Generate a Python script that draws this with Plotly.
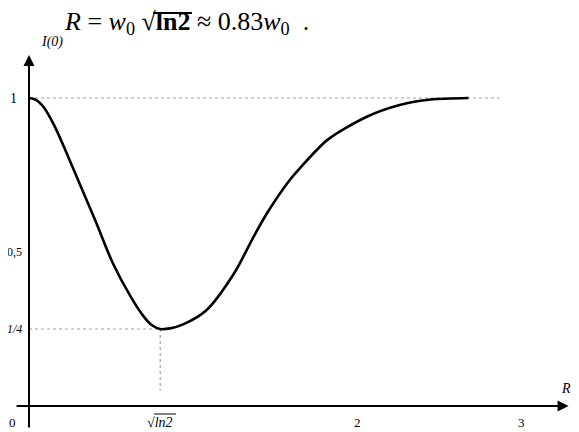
import plotly.graph_objects as go

# values
r_vals = [0.0, 0.04, 0.09, 0.15, 0.21, 0.31, 0.41, 0.51, 0.62, 0.70, 0.75, 0.80,
          0.86, 0.94, 1.08, 1.25, 1.37, 1.45, 1.59, 1.65, 1.82, 2.06, 2.26, 2.45, 2.68]
i_vals = [1.0, 0.995, 0.97, 0.915, 0.845, 0.72, 0.595, 0.465, 0.355, 0.29, 0.262, 0.25,
          0.252, 0.265, 0.31, 0.43, 0.55, 0.625, 0.734, 0.771, 0.864, 0.939, 0.977, 0.995, 1.0]

r_min = 0.80          # where the minimum sits in the drawing (sqrt(ln 2))
i_min = 0.25
ref_level = 1.0
ref_end = 2.87        # end of the dotted line at I = 1

x_ticks = [0, r_min, 2, 3]
x_labels = ["0", "<i>√ln2</i>", "2", "3"]
y_ticks = [1.0, 0.5, 0.25]
y_labels = ["1", "0,5", "<i>1/4</i>"]

FONT = "Liberation Serif, Times New Roman, serif"
DOT = dict(color="#a0a0a0", width=1.2, dash="dot")

fig = go.Figure()

# dotted guides
fig.add_trace(go.Scatter(x=[0, ref_end], y=[ref_level, ref_level], mode="lines",
                         line=DOT, hoverinfo="skip"))
fig.add_trace(go.Scatter(x=[0, r_min], y=[i_min, i_min], mode="lines",
                         line=DOT, hoverinfo="skip"))
fig.add_trace(go.Scatter(x=[r_min, r_min], y=[i_min, 0.05], mode="lines",
                         line=DOT, hoverinfo="skip"))

# curve
fig.add_trace(go.Scatter(x=r_vals, y=i_vals, mode="lines",
                         line=dict(color="black", width=2.6, shape="spline", smoothing=0.8),
                         hoverinfo="skip"))

# axes with arrow heads
fig.add_annotation(x=3.29, y=0, ax=-0.085, ay=0, xref="x", yref="y", axref="x", ayref="y",
                   showarrow=True, arrowhead=2, arrowsize=1.1, arrowwidth=2, arrowcolor="black",
                   text="")
fig.add_annotation(x=0, y=1.14, ax=0, ay=-0.075, xref="x", yref="y", axref="x", ayref="y",
                   showarrow=True, arrowhead=2, arrowsize=1.1, arrowwidth=2, arrowcolor="black",
                   text="")

# tick labels
for xv, lab in zip(x_ticks, x_labels):
    fig.add_annotation(x=xv, y=0, yshift=-16, text=lab, showarrow=False,
                       xshift=-17 if xv == 0 else 0,
                       font=dict(family=FONT, size=14 if xv == r_min else 13, color="black"))
for yv, lab in zip(y_ticks, y_labels):
    fig.add_annotation(x=0, y=yv, xanchor="right", xshift=-5 if yv != 1 else -10,
                       text=lab, showarrow=False,
                       font=dict(family=FONT, size=14 if yv == 1 else 12, color="black"))

fig.add_annotation(x=0, y=1.15, xanchor="left", yanchor="bottom", xshift=10,
                   text="<i>I(0)</i>", showarrow=False,
                   font=dict(family=FONT, size=14, color="black"))
fig.add_annotation(x=3.29, y=0, xanchor="left", yanchor="bottom", yshift=8, xshift=-10,
                   text="<i>R</i>", showarrow=False,
                   font=dict(family=FONT, size=14, color="black"))

# formula on top
fig.add_annotation(xref="paper", yref="paper", x=0.094, y=1.0, xanchor="left", yanchor="top",
                   yshift=3,
                   text="<i>R</i> = <i>w</i><sub>0</sub> <b>√ln2</b> ≈ 0.83<i>w</i><sub>0</sub>  .",
                   showarrow=False, font=dict(family=FONT, size=26, color="black"))


def root_bar(x0, x1, y, width):
    # page pixels -> paper coords (figure starts at page pixel 8)
    fig.add_shape(type="line", xref="paper", yref="paper",
                  x0=(x0 - 8) / 571, x1=(x1 - 8) / 571,
                  y0=1 - (y - 8) / 424, y1=1 - (y - 8) / 424,
                  line=dict(color="black", width=width))


root_bar(153, 192, 13, 1.8)   # formula
root_bar(154, 176, 414, 1)    # tick label

# page body keeps an 8px margin, so the figure starts at page pixel 8
fig.update_layout(
    width=571, height=424,
    margin=dict(l=0, r=0, t=0, b=0),
    showlegend=False,
    plot_bgcolor="white", paper_bgcolor="white",
    xaxis=dict(range=[-21 / 164, 550 / 164], visible=False, fixedrange=True),
    yaxis=dict(range=[-26 / 308, 398 / 308], visible=False, fixedrange=True),
)

fig.write_html("out.html")
